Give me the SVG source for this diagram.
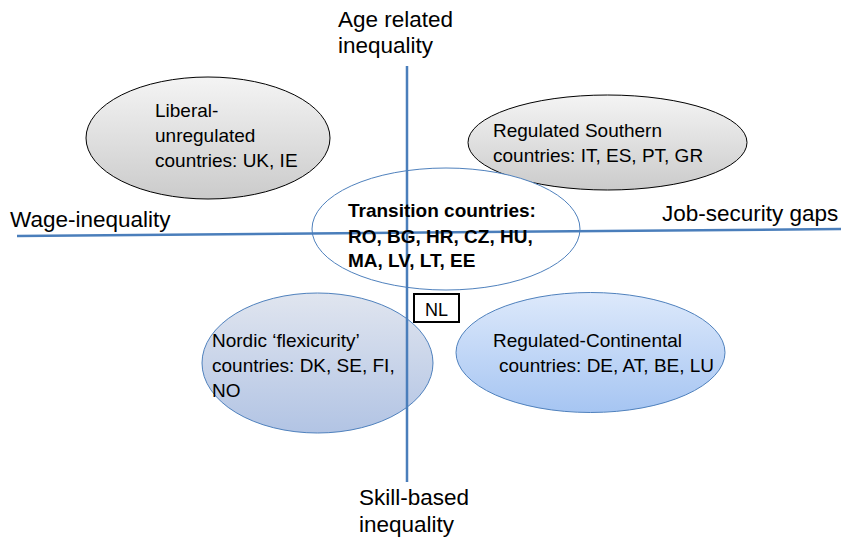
<svg xmlns="http://www.w3.org/2000/svg" width="841" height="537" viewBox="0 0 841 537">
  <defs>
    <linearGradient id="gGray" x1="0" y1="0" x2="0" y2="1">
      <stop offset="0" stop-color="#f4f4f4"/>
      <stop offset="1" stop-color="#cbcbcb"/>
    </linearGradient>
    <linearGradient id="gNordic" x1="0" y1="0" x2="0" y2="1">
      <stop offset="0" stop-color="#e0e5ef"/>
      <stop offset="1" stop-color="#b2c4e4"/>
    </linearGradient>
    <linearGradient id="gCont" x1="0" y1="0" x2="0" y2="1">
      <stop offset="0" stop-color="#dde9fb"/>
      <stop offset="1" stop-color="#a6c5f2"/>
    </linearGradient>
  </defs>
  <style>
    text { font-family: "Liberation Sans", Arial, sans-serif; fill: #000; }
    .node { font-size: 19px; }
    .bold { font-size: 19px; font-weight: bold; }
    .axis { font-size: 22.5px; }
    .gray { fill: url(#gGray); stroke: #000; stroke-width: 1; }
    .blue { stroke: #4f81bd; stroke-width: 1; }
    .ax { stroke: #4a7ebb; stroke-width: 2.5; fill: none; }
  </style>
  <rect width="841" height="537" fill="#fff"/>

  <g id="liberal">
    <ellipse cx="208" cy="138" rx="122" ry="61" class="gray"/>
    <text class="node" x="155" y="117">Liberal-</text>
    <text class="node" x="155" y="142">unregulated</text>
    <text class="node" x="155" y="167">countries: UK, IE</text>
  </g>

  <g id="southern">
    <ellipse cx="607.5" cy="142.5" rx="139.5" ry="47.5" class="gray"/>
    <text class="node" x="493" y="137">Regulated Southern</text>
    <text class="node" x="493" y="162">countries: IT, ES, PT, GR</text>
  </g>

  <g id="transition">
    <ellipse cx="446" cy="229" rx="134" ry="61" fill="#fff" class="blue"/>
  </g>

  <g id="nordic">
    <ellipse cx="317.5" cy="363" rx="115.5" ry="70" fill="url(#gNordic)" class="blue"/>
    <text class="node" x="212" y="347">Nordic ‘flexicurity’</text>
    <text class="node" x="212" y="372">countries: DK, SE, FI,</text>
    <text class="node" x="212" y="397">NO</text>
  </g>

  <g id="continental">
    <ellipse cx="590.5" cy="352.5" rx="134.5" ry="60" fill="url(#gCont)" class="blue"/>
    <text class="node" x="493" y="347">Regulated-Continental</text>
    <text class="node" x="499" y="372">countries: DE, AT, BE, LU</text>
  </g>

  <g id="nl">
    <rect x="414" y="294" width="45" height="28" fill="#fff" stroke="#000" stroke-width="2"/>
    <text x="436.5" y="316" font-size="18" text-anchor="middle">NL</text>
  </g>

  <g id="connectors">
    <line class="ax" x1="17" y1="236" x2="841" y2="229"/>
    <line class="ax" x1="407" y1="66" x2="407" y2="482"/>
  </g>

  <g id="transition-label">
    <text class="bold" x="348" y="217">Transition countries:</text>
    <text class="bold" x="348" y="243">RO, BG, HR, CZ, HU,</text>
    <text class="bold" x="348" y="267">MA, LV, LT, EE</text>
  </g>

  <g id="axis-labels">
    <text class="axis" x="338" y="27">Age related</text>
    <text class="axis" x="338" y="53">inequality</text>
    <text class="axis" x="359" y="505">Skill-based</text>
    <text class="axis" x="359" y="532">inequality</text>
    <text class="axis" x="10" y="227">Wage-inequality</text>
    <text class="axis" x="662" y="221">Job-security gaps</text>
  </g>
</svg>
